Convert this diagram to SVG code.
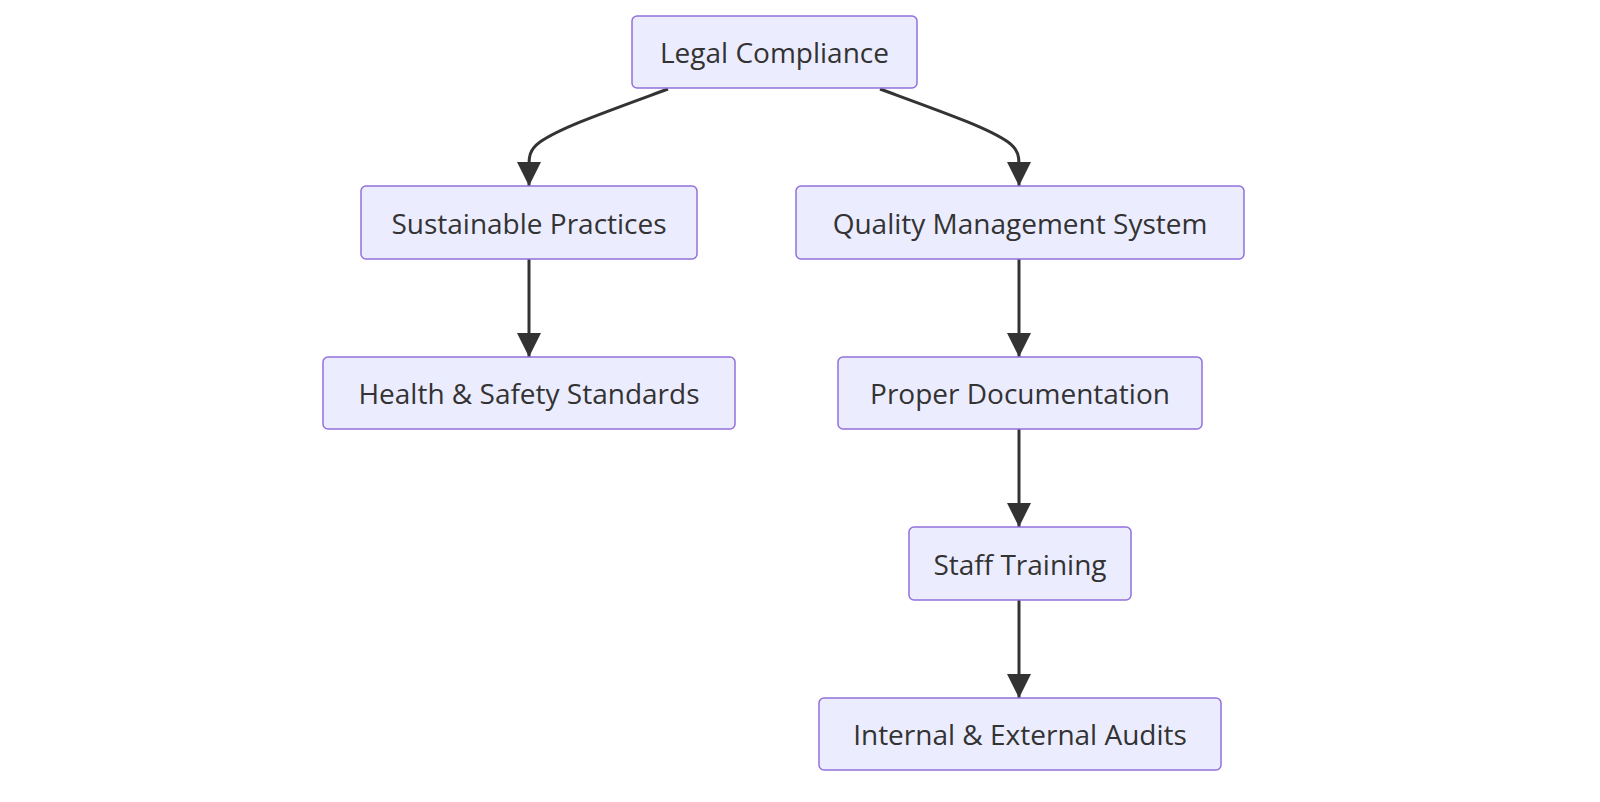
<svg xmlns="http://www.w3.org/2000/svg" width="1600" height="802" viewBox="0 0 1600 802">
<style>
.n rect{fill:#ECECFF;stroke:#9370DB;stroke-width:1.5}
.n text{font-family:"Open Sans",sans-serif;font-size:28px;fill:#333;text-anchor:middle;dominant-baseline:central}
.e path{fill:none;stroke:#333;stroke-width:3}
</style>
<defs><marker id="a" viewBox="0 0 10 10" refX="9" refY="5" markerWidth="8" markerHeight="8" markerUnits="userSpaceOnUse" orient="auto"><path d="M0,0L10,5L0,10z" fill="#333"/></marker>
<marker id="b" viewBox="0 0 10 10" refX="10" refY="5" markerWidth="24" markerHeight="24" markerUnits="userSpaceOnUse" orient="auto"><path d="M0,0L10,5L0,10z" fill="#333"/></marker></defs>
<g class="e">
<path d="M668,89 C600,114 560,128 540,142 C529,150 529,158 529,164 L529,186" marker-end="url(#b)"/>
<path d="M880,89 C948,114 988,128 1008,142 C1019,150 1019,158 1019,164 L1019,186" marker-end="url(#b)"/>
<path d="M529,259 L529,357" marker-end="url(#b)"/>
<path d="M1019,259 L1019,357" marker-end="url(#b)"/>
<path d="M1019,429 L1019,527" marker-end="url(#b)"/>
<path d="M1019,600 L1019,698" marker-end="url(#b)"/>
</g>
<g id="legal" class="n"><rect x="632" y="16" width="285" height="72" rx="5"/><text x="774.5" y="52">Legal Compliance</text></g>
<g id="sust" class="n"><rect x="361" y="186" width="336" height="73" rx="5"/><text x="529" y="222.5">Sustainable Practices</text></g>
<g id="qms" class="n"><rect x="796" y="186" width="448" height="73" rx="5"/><text x="1020" y="222.5">Quality Management System</text></g>
<g id="hs" class="n"><rect x="323" y="357" width="412" height="72" rx="5"/><text x="529" y="393">Health &amp; Safety Standards</text></g>
<g id="doc" class="n"><rect x="838" y="357" width="364" height="72" rx="5"/><text x="1020" y="393">Proper Documentation</text></g>
<g id="staff" class="n"><rect x="909" y="527" width="222" height="73" rx="5"/><text x="1020" y="563.5">Staff Training</text></g>
<g id="audit" class="n"><rect x="819" y="698" width="402" height="72" rx="5"/><text x="1020" y="734">Internal &amp; External Audits</text></g>
</svg>
